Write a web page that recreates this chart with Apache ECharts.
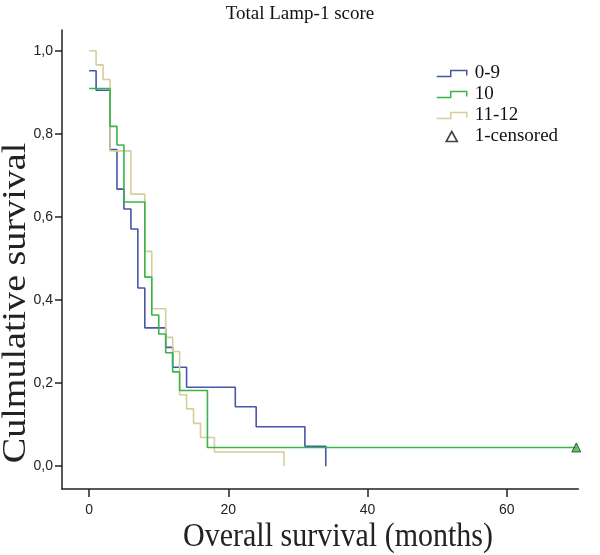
<!DOCTYPE html>
<html><head><meta charset="utf-8">
<script src="https://cdn.jsdelivr.net/npm/echarts@6/dist/echarts.min.js"></script>
<style>html,body{margin:0;padding:0;background:#fff}#c{width:600px;height:555px}</style>
</head><body><div id="c"></div>
<script>
const chartTitle = 'Total Lamp-1 score';
const xTitle = 'Overall survival (months)';
const yTitle = 'Culmulative survival';
const seriesNames = ['0-9', '10', '11-12'];
const censoredName = '1-censored';
// Kaplan-Meier step points (months, cumulative survival)
const months09 = [0, 1, 3, 4, 5, 6, 7, 8, 11, 12, 14, 21, 24, 31, 34];
const surv09 = [0.952, 0.905, 0.762, 0.667, 0.619, 0.571, 0.429, 0.333, 0.286, 0.238, 0.190, 0.143, 0.095, 0.048, 0];
const months10 = [0, 3, 4, 5, 8, 9, 10, 11, 12, 13, 17, 70];
const surv10 = [0.909, 0.818, 0.773, 0.636, 0.455, 0.364, 0.318, 0.273, 0.227, 0.182, 0.045, 0.045];
const months1112 = [0, 1, 2, 3, 6, 8, 9, 11, 12, 13, 14, 15, 16, 18, 28];
const surv1112 = [1, 0.966, 0.931, 0.759, 0.655, 0.517, 0.379, 0.310, 0.276, 0.172, 0.138, 0.103, 0.069, 0.034, 0];
const censoredMonths = [70];
const censoredSurv = [0.045];
const xTickValues = [0, 20, 40, 60];
const yTickValues = [0, 0.2, 0.4, 0.6, 0.8, 1.0];

const colors = { '0-9': '#4656a8', '10': '#38b548', '11-12': '#d6ce98' };
const pairs = (xs, ys) => xs.map((x, i) => [x, ys[i]]);
const stepIcon = 'path://M0,6 L14,6 L14,0 L30,0 L30,5';
const triIcon = 'path://M5,0 L10,9 L0,9 Z';
const serif = '"Liberation Serif", "Times New Roman", serif';
const sans = '"Liberation Sans", Arial, sans-serif';

const chart = echarts.init(document.getElementById('c'), null, { renderer: 'canvas' });
const lineSeries = (name, xs, ys) => ({
  name, type: 'line', step: 'end', data: pairs(xs, ys), showSymbol: false, symbol: 'none',
  lineStyle: { color: colors[name], width: 1.6 }, itemStyle: { color: colors[name] },
  emphasis: { disabled: true }, animation: false
});
chart.setOption({
  animation: false,
  title: { text: chartTitle, left: 'center', top: 0,
    textStyle: { fontFamily: serif, fontSize: 19, fontWeight: 'normal', color: '#111' } },
  grid: { left: 62, right: 21.6, top: 30, bottom: 66, containLabel: false },
  legend: {
    orient: 'vertical', left: 431, top: 59, padding: 5, itemWidth: 30, itemHeight: 10, itemGap: 2,
    symbolKeepAspect: true,
    textStyle: { fontFamily: serif, fontSize: 19, lineHeight: 19, color: '#111', padding: [0, 0, 0, 3] },
    selectedMode: false,
    data: [
      { name: '0-9', icon: stepIcon, itemStyle: { color: 'transparent', borderColor: colors['0-9'], borderWidth: 1.5 } },
      { name: '10', icon: stepIcon, itemStyle: { color: 'transparent', borderColor: colors['10'], borderWidth: 1.5 } },
      { name: '11-12', icon: stepIcon, itemStyle: { color: 'transparent', borderColor: colors['11-12'], borderWidth: 1.5 } },
      { name: censoredName, icon: triIcon, itemStyle: { color: '#fff', borderColor: '#111', borderWidth: 1.6 } }
    ]
  },
  xAxis: {
    type: 'value', min: -3.9, max: 70.3,
    axisLine: { onZero: false, lineStyle: { color: '#222', width: 1.5 } },
    axisTick: { show: true, length: 8, customValues: xTickValues, lineStyle: { color: '#222', width: 1.5 } },
    axisLabel: { customValues: xTickValues, margin: 14, fontFamily: sans, fontSize: 14, color: '#222' },
    splitLine: { show: false }
  },
  yAxis: {
    type: 'value', min: -0.055, max: 1.05,
    axisLine: { show: true, onZero: false, lineStyle: { color: '#222', width: 1.5 } },
    axisTick: { show: true, length: 7, customValues: yTickValues, lineStyle: { color: '#222', width: 1.5 } },
    axisLabel: { customValues: yTickValues, margin: 9, fontFamily: sans, fontSize: 14, color: '#222',
      formatter: v => v.toFixed(1).replace('.', ',') },
    splitLine: { show: false }
  },
  graphic: [
    { type: 'text', x: 338, y: 537, scaleY: 1.12, silent: true,
      style: { text: xTitle, font: '30px ' + serif, fill: '#222', textAlign: 'center', textVerticalAlign: 'middle' } },
    { type: 'text', x: 16, y: 303, rotation: Math.PI / 2, scaleX: 1.12, silent: true,
      style: { text: yTitle, font: '34px ' + serif, fill: '#222', textAlign: 'center', textVerticalAlign: 'middle' } }
  ],
  series: [
    lineSeries('0-9', months09, surv09),
    lineSeries('11-12', months1112, surv1112),
    lineSeries('10', months10, surv10),
    { name: censoredName, type: 'scatter', data: pairs(censoredMonths, censoredSurv), symbol: 'triangle', symbolSize: 9,
      itemStyle: { color: '#3db54a', borderColor: '#1a3a1a', borderWidth: 1 }, emphasis: { disabled: true }, z: 5 }
  ]
});
</script></body></html>
